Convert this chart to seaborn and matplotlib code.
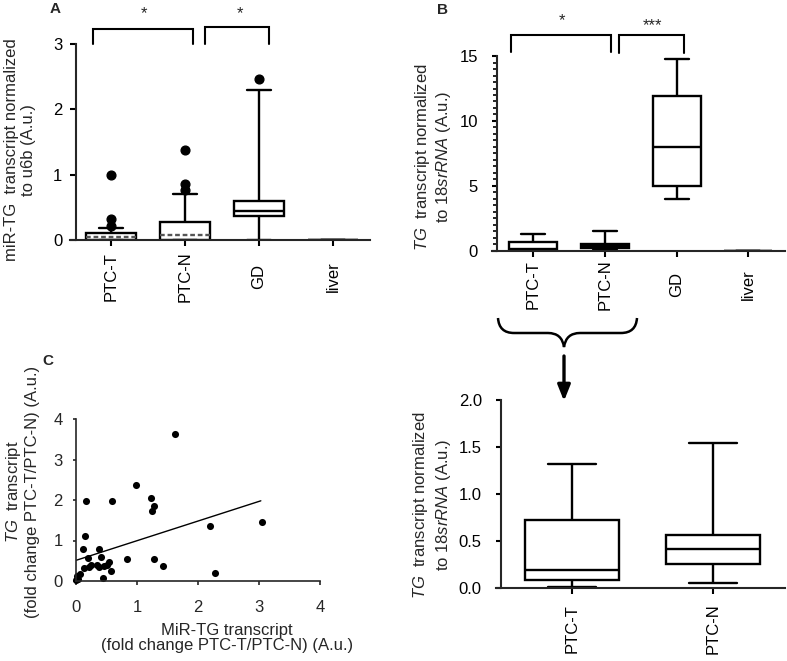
import numpy as np
import pandas as pd
import matplotlib
matplotlib.use("Agg")
import matplotlib.pyplot as plt
import seaborn as sns
from matplotlib.lines import Line2D
from matplotlib.path import Path
from matplotlib.patches import PathPatch, FancyArrowPatch
from matplotlib.ticker import MultipleLocator, FormatStrFormatter

# ------------------------------------------------------------------ data
groups = ["PTC-T", "PTC-N", "GD", "liver"]
groups_d = ["PTC-T", "PTC-N"]

# Panel A: miR-TG transcript normalized to u6b (box summaries)
a_whislo = [0.0, 0.0, 0.0, 0.0]
a_q1 = [0.0, 0.0, 0.37, 0.0]
a_med = [0.05, 0.07, 0.45, 0.0]
a_q3 = [0.11, 0.27, 0.60, 0.0]
a_whishi = [0.19, 0.70, 2.30, 0.0]
a_fliers = [[0.21, 0.32, 1.00], [0.77, 0.85, 1.37], [2.46], []]

# Panel B: TG transcript normalized to 18srRNA (box summaries)
b_whislo = [0.01, 0.05, 3.97, 0.0]
b_q1 = [0.09, 0.26, 5.00, 0.0]
b_med = [0.19, 0.42, 8.00, 0.0]
b_q3 = [0.72, 0.56, 11.9, 0.0]
b_whishi = [1.32, 1.54, 14.8, 0.0]
b_fliers = [[], [], [], []]

# Panel C: scatter of fold changes
c_mir = [1.62, 0.98, 1.23, 1.28, 1.25, 0.59, 0.16, 0.14, 0.12, 0.37, 0.19,
         0.41, 0.84, 1.28, 1.43, 0.54, 0.50, 0.13, 0.21, 0.24, 0.35, 0.37,
         0.46, 0.58, 0.45, 0.07, 0.02, 0.00, 0.04, 2.20, 3.05, 2.28]
c_tg = [3.62, 2.36, 2.04, 1.86, 1.73, 1.98, 1.97, 1.11, 0.80, 0.79, 0.56,
        0.60, 0.55, 0.55, 0.36, 0.47, 0.39, 0.31, 0.35, 0.39, 0.39, 0.35,
        0.38, 0.24, 0.08, 0.18, 0.12, 0.02, 0.06, 1.37, 1.45, 0.20]
fit_x = [0.0, 3.03]
fit_y = [0.51, 1.98]


def box_samples(lo, q1, med, q3, hi, fliers):
    # 17 values whose quartiles are exactly q1/med/q3 (positions 4, 8, 12)
    vals = [lo, q1, q1, q1, q1, med, med, med, med, q3, q3, q3, q3, hi]
    extra = sorted(list(fliers) + [hi] * (3 - len(fliers)))
    return vals + extra


def long_frame(names, lo, q1, med, q3, hi, fl):
    rows = []
    for i, g in enumerate(names):
        for v in box_samples(lo[i], q1[i], med[i], q3[i], hi[i], fl[i]):
            rows.append((g, v))
    return pd.DataFrame(rows, columns=["group", "value"])


df_a = long_frame(groups, a_whislo, a_q1, a_med, a_q3, a_whishi, a_fliers)
df_b = long_frame(groups, b_whislo, b_q1, b_med, b_q3, b_whishi, b_fliers)
df_d = df_b[df_b["group"].isin(groups_d)]

# ------------------------------------------------------------------ style
sns.set_style("ticks")
plt.rcParams["font.family"] = ["Liberation Sans", "DejaVu Sans"]
plt.rcParams["mathtext.fontset"] = "custom"
plt.rcParams["mathtext.rm"] = "Liberation Sans"
plt.rcParams["mathtext.it"] = "Liberation Sans:italic"
plt.rcParams["axes.linewidth"] = 1.5

W, H = 787, 661
fig = plt.figure(figsize=(W / 100, H / 100), dpi=100)
fig.patch.set_facecolor("white")


def fx(x):
    return x / W


def fy(y):
    return 1 - y / H


def rect(l, t, r, b):
    return [l / W, 1 - b / H, (r - l) / W, (b - t) / H]


box_kw = dict(color="white", linecolor="black", linewidth=1.7, width=0.67,
              whis=(0, 82), fliersize=6,
              flierprops=dict(marker="o", markerfacecolor="black",
                              markeredgecolor="black", markersize=6.3))


def style_cat_axis(ax, spine_x, pad_x):
    sns.despine(ax=ax)
    ax.spines["left"].set_position(("data", spine_x))
    ax.set_xlabel("")
    ax.tick_params(axis="x", length=4.3, width=1.5, pad=pad_x, labelsize=12,
                   colors="black")
    ax.tick_params(axis="y", width=1.5, labelsize=12, colors="black")
    for t in ax.get_xticklabels():
        t.set_rotation(90)
        t.set_va("center")


def dash_low_medians(ax, n, width=0.67):
    meds = []
    for ln in ax.lines:
        xd, yd = np.asarray(ln.get_xdata()), np.asarray(ln.get_ydata())
        if len(xd) == 2 and yd[0] == yd[1] and abs(xd[1] - xd[0]) > 0.9 * width:
            meds.append(ln)
    meds.sort(key=lambda l: np.mean(l.get_xdata()))
    for ln in meds[:n]:
        ln.set_linestyle((0, (2.0, 1.2)))
        ln.set_color("#555555")


# ------------------------------------------------------------------ panel A
axA = fig.add_axes(rect(70, 44, 370, 240))
axA.patch.set_alpha(0)
sns.boxplot(data=df_a, x="group", y="value", order=groups, ax=axA, **box_kw)
dash_low_medians(axA, 2)
axA.set_xlim(-0.554, 3.5)
axA.set_ylim(0, 3)
axA.set_yticks([0, 1, 2, 3])
style_cat_axis(axA, -0.473, 22)
axA.tick_params(axis="y", length=4.3, pad=5.5)
axA.set_ylabel("miR-TG  transcript normalized\nto u6b (A.u.)", fontsize=12)
axA.yaxis.set_label_coords(fx(20), fy(150), transform=fig.transFigure)
axA.yaxis.label.set_va("center")

# ------------------------------------------------------------------ panel B
axB = fig.add_axes(rect(492, 56, 785, 251))
axB.patch.set_alpha(0)
sns.boxplot(data=df_b, x="group", y="value", order=groups, ax=axB, **box_kw)
axB.set_xlim(-0.572, 3.51)
axB.set_ylim(0, 15)
axB.set_yticks([0, 5, 10, 15])
axB.yaxis.set_minor_locator(MultipleLocator(0.5))
style_cat_axis(axB, -0.502, 20)
axB.tick_params(axis="y", which="major", length=3.8, pad=10)
axB.tick_params(axis="y", which="minor", length=2.6, width=1.2, color="black")
axB.set_ylabel(r"$\mathit{TG}$  transcript normalized" + "\n" +
               r"to $\mathit{18srRNA}$ (A.u.)", fontsize=12)
axB.yaxis.set_label_coords(fx(433), fy(157), transform=fig.transFigure)
axB.yaxis.label.set_va("center")

# ------------------------------------------------------------------ panel D
axD = fig.add_axes(rect(496, 400, 785, 588))
axD.patch.set_alpha(0)
sns.boxplot(data=df_d, x="group", y="value", order=groups_d, ax=axD, **box_kw)
axD.set_xlim(-0.539, 1.51)
axD.set_ylim(0, 2.0)
axD.set_yticks([0, 0.5, 1.0, 1.5, 2.0])
axD.yaxis.set_major_formatter(FormatStrFormatter("%.1f"))
style_cat_axis(axD, -0.504, 25)
axD.tick_params(axis="y", length=3.8, pad=10)
axD.set_ylabel(r"$\mathit{TG}$  transcript normalized" + "\n" +
               r"to $\mathit{18srRNA}$ (A.u.)", fontsize=12, linespacing=1.3)
axD.yaxis.set_label_coords(fx(432), fy(505), transform=fig.transFigure)
axD.yaxis.label.set_va("center")

# ------------------------------------------------------------------ panel C
axC = fig.add_axes(rect(76, 419, 320, 581))
axC.patch.set_alpha(0)
sns.scatterplot(x=c_mir, y=c_tg, color="black", s=26, linewidth=0, ax=axC)
for coll in axC.collections:
    coll.set_clip_on(False)
sns.lineplot(x=fit_x, y=fit_y, color="black", linewidth=1.0, ax=axC)
axC.set_xlim(0, 4)
axC.set_ylim(0, 4)
axC.set_xticks([0, 1, 2, 3, 4])
axC.set_yticks([0, 1, 2, 3, 4])
sns.despine(ax=axC)
axC.spines["left"].set_linewidth(1.2)
axC.spines["bottom"].set_linewidth(1.2)
axC.tick_params(axis="x", length=3, width=1.2, pad=11, labelsize=12)
axC.tick_params(axis="y", length=2.5, width=1.2, pad=7, labelsize=12)
axC.set_xlabel("MiR-TG transcript\n(fold change PTC-T/PTC-N) (A.u.)",
               fontsize=12, linespacing=1.0)
axC.xaxis.set_label_coords(fx(227), fy(638), transform=fig.transFigure)
axC.xaxis.label.set_va("center")
axC.set_ylabel(r"$\mathit{TG}$  transcript" + "\n" +
               "(fold change PTC-T/PTC-N) (A.u.)", fontsize=12)
axC.yaxis.set_label_coords(fx(22), fy(492), transform=fig.transFigure)
axC.yaxis.label.set_va("center")

# ------------------------------------------------------------------ annotations
def fig_line(pts, lw=1.5):
    xs = [fx(p[0]) for p in pts]
    ys = [fy(p[1]) for p in pts]
    fig.add_artist(Line2D(xs, ys, transform=fig.transFigure, color="black",
                          lw=lw, solid_joinstyle="miter"))


# significance brackets A
fig_line([(93, 44), (93, 29), (193, 29), (193, 44)])
fig_line([(205, 44), (205, 27), (269, 27), (269, 44)])
fig.text(fx(144), fy(14), "*", ha="center", va="center", fontsize=12)
fig.text(fx(240), fy(14), "*", ha="center", va="center", fontsize=12)
# significance brackets B
fig_line([(511, 52), (511, 35), (611, 35), (611, 52)])
fig_line([(619, 53), (619, 35), (684, 35), (684, 53)])
fig.text(fx(562), fy(21), "*", ha="center", va="center", fontsize=12)
fig.text(fx(652), fy(26), "***", ha="center", va="center", fontsize=12)

# panel letters
fig.text(fx(55), fy(9), "A", ha="center", va="center", fontsize=11,
         fontweight="bold")
fig.text(fx(442), fy(10), "B", ha="center", va="center", fontsize=11,
         fontweight="bold")
fig.text(fx(48), fy(361), "C", ha="center", va="center", fontsize=11,
         fontweight="bold")

# curly brace + arrow from B to zoomed panel
brace_pts = [(498, 318), (499, 333), (514, 333), (548, 333), (562, 333),
             (564, 347), (566, 333), (580, 333), (621, 333), (636, 333),
             (637, 318)]
codes = [Path.MOVETO, Path.CURVE3, Path.CURVE3, Path.LINETO, Path.CURVE3,
         Path.CURVE3, Path.CURVE3, Path.CURVE3, Path.LINETO, Path.CURVE3,
         Path.CURVE3]
brace = Path([(fx(x), fy(y)) for x, y in brace_pts], codes)
fig.add_artist(PathPatch(brace, transform=fig.transFigure, fill=False,
                         lw=1.8, edgecolor="black"))
fig.add_artist(FancyArrowPatch((fx(564), fy(356)), (fx(564), fy(401)),
                               transform=fig.transFigure,
                               arrowstyle="-|>,head_length=0.95,head_width=0.38",
                               mutation_scale=10, lw=2.4, color="black",
                               shrinkA=0, shrinkB=0))

fig.savefig("out.png", dpi=100, facecolor="white")
